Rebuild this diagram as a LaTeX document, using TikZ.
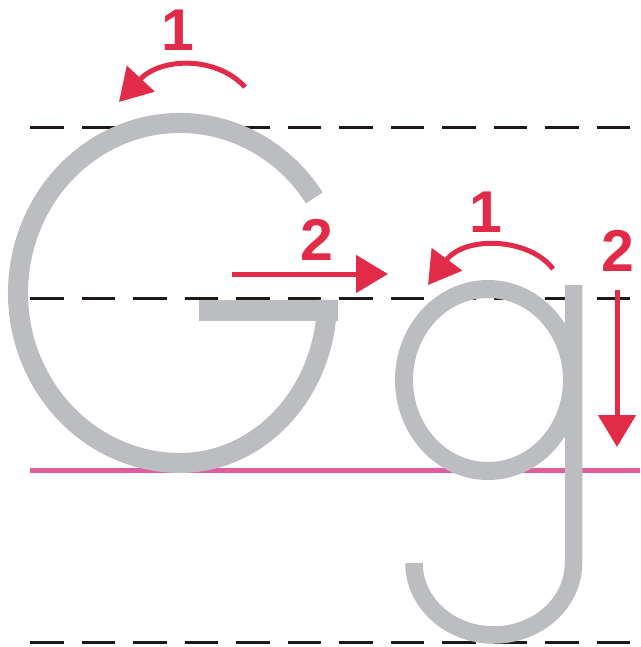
\documentclass[tikz,border=0pt]{standalone}
\usepackage{fontspec}
\setmainfont{Liberation Sans}
\usetikzlibrary{arrows.meta}
\definecolor{letgray}{RGB}{187,189,192}
\definecolor{arrred}{RGB}{226,43,72}
\definecolor{basepink}{RGB}{224,94,156}
\definecolor{dashblack}{RGB}{30,25,22}
\tikzset{
  guide/.style={draw=dashblack, line width=3, dash pattern=on 33.5 off 18},
  baseline/.style={draw=basepink, line width=5},
  letter/.style={draw=letgray, line cap=butt},
  redarrow/.style={draw=arrred, line width=5, -{Triangle[length=32,width=37]}},
  numlabel/.style={text=arrred, inner sep=0, font=\fontsize{59}{60}\selectfont\bfseries}
}
\begin{document}
\begin{tikzpicture}[x=1pt,y=-1pt]
\useasboundingbox (0,0) rectangle (640,647);
% guide lines
\coordinate (t1) at (30,128); \coordinate (t2) at (640,128);
\coordinate (m1) at (30,298); \coordinate (m2) at (640,298);
\coordinate (b1) at (30,642); \coordinate (b2) at (640,642);
\coordinate (p1) at (30,470); \coordinate (p2) at (640,470);
\draw[guide] (t1) -- (t2);
\draw[guide] (m1) -- (m2);
\draw[guide] (b1) -- (b2);
\draw[baseline] (p1) -- (p2);
% capital G
\draw[letter, line width=20] (314.3,197.9)
  arc[start angle=-34, end angle=-270, x radius=162, y radius=170]
  arc[start angle=-270, end angle=-360, x radius=147, y radius=163];
\fill[letgray] (199,300) rectangle (337.5,321);
% small g
\draw[letter, line width=18] (488,380) ellipse [x radius=84, y radius=91];
\draw[letter, line width=17.5] (573.5,285) -- (573.5,563)
  arc[start angle=0, end angle=180, x radius=79.75, y radius=72];
% arrows for G
\coordinate (a1s) at (245,87); \coordinate (a1e) at (119,102);
\draw[redarrow] (a1s) .. controls (215,55) and (160,58) .. (a1e);
\node[numlabel] (n1) at (178,30) {1};
\coordinate (a2s) at (232,274); \coordinate (a2e) at (388,274);
\draw[redarrow] (a2s) -- (a2e);
\node[numlabel] (n2) at (317,240) {2};
% arrows for g
\coordinate (a3s) at (553,269); \coordinate (a3e) at (428,285);
\draw[redarrow] (a3s) .. controls (530,238) and (465,235) .. (a3e);
\node[numlabel] (n3) at (486,212) {1};
\coordinate (a4s) at (617,290); \coordinate (a4e) at (617,447);
\draw[redarrow] (a4s) -- (a4e);
\node[numlabel] (n4) at (618,251) {2};
\end{tikzpicture}
\end{document}
